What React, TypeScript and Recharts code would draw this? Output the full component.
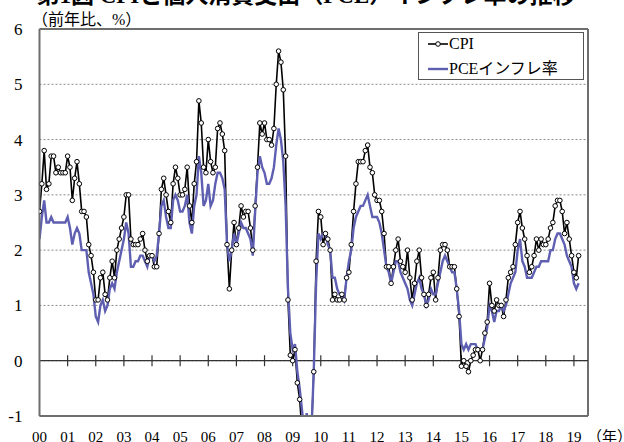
import React from "react";
import {
  LineChart,
  Line,
  XAxis,
  YAxis,
  CartesianGrid,
  ReferenceLine,
  Legend,
} from "recharts";

const FONT = "'Liberation Serif', 'Times New Roman', 'DejaVu Serif', 'Noto Sans CJK JP', serif";
const FRAME = "#6e6e6e";
const PCE_COLOR = "#5f5fb2";

// year labels under the axis (Jan of each year)
const yearLabels = [
  "00", "01", "02", "03", "04", "05", "06", "07", "08", "09",
  "10", "11", "12", "13", "14", "15", "16", "17", "18", "19",
];

// CPI, y/y %, monthly from Jan 2000
const cpi = [
  2.7, 3.2, 3.8, 3.1, 3.2, 3.7, 3.7, 3.4, 3.5, 3.4, 3.4, 3.4,
  3.7, 3.5, 2.9, 3.3, 3.6, 3.2, 2.7, 2.7, 2.6, 2.1, 1.9, 1.6,
  1.1, 1.1, 1.5, 1.6, 1.2, 1.1, 1.5, 1.8, 1.5, 2.0, 2.2, 2.4,
  2.6, 3.0, 3.0, 2.2, 2.1, 2.1, 2.1, 2.2, 2.3, 2.0, 1.8, 1.9,
  1.9, 1.7, 1.7, 2.3, 3.1, 3.3, 3.0, 2.7, 2.5, 3.2, 3.5, 3.3,
  3.0, 3.0, 3.1, 3.5, 2.8, 2.5, 3.2, 3.6, 4.7, 4.3, 3.5, 3.4,
  4.0, 3.6, 3.4, 3.5, 4.2, 4.3, 4.1, 3.8, 2.1, 1.3, 2.0, 2.5,
  2.1, 2.4, 2.8, 2.6, 2.7, 2.7, 2.4, 2.0, 2.8, 3.5, 4.3, 4.1,
  4.3, 4.0, 4.0, 3.9, 4.2, 5.0, 5.6, 5.4, 4.9, 3.7, 1.1, 0.1,
  0.0, 0.2, -0.4, -0.7, -1.3, -1.4, -2.1, -1.5, -1.3, -0.2, 1.8, 2.7,
  2.6, 2.1, 2.3, 2.2, 2.0, 1.1, 1.2, 1.1, 1.1, 1.2, 1.1, 1.5,
  1.6, 2.1, 2.7, 3.2, 3.6, 3.6, 3.6, 3.8, 3.9, 3.5, 3.4, 3.0,
  2.9, 2.9, 2.7, 2.3, 1.7, 1.7, 1.4, 1.7, 2.0, 2.2, 1.8, 1.7,
  1.6, 2.0, 1.5, 1.1, 1.4, 1.8, 2.0, 1.5, 1.2, 1.0, 1.2, 1.5,
  1.6, 1.1, 1.5, 2.0, 2.1, 2.1, 2.0, 1.7, 1.7, 1.7, 1.3, 0.8,
  -0.1, 0.0, -0.1, -0.2, 0.0, 0.1, 0.2, 0.2, 0.0, 0.2, 0.5, 0.7,
  1.4, 1.0, 0.9, 1.1, 1.0, 1.0, 0.8, 1.1, 1.5, 1.6, 1.7, 2.1,
  2.5, 2.7, 2.4, 2.2, 1.9, 1.6, 1.7, 1.9, 2.2, 2.0, 2.2, 2.1,
  2.1, 2.2, 2.4, 2.5, 2.8, 2.9, 2.9, 2.7, 2.3, 2.5, 2.2, 1.9,
  1.6, 1.5, 1.9,
];

// PCE inflation, y/y %, monthly from Jan 2000
const pce = [
  2.2, 2.6, 2.9, 2.5, 2.5, 2.6, 2.5, 2.5, 2.5, 2.5, 2.5, 2.5,
  2.6, 2.4, 2.1, 2.3, 2.4, 2.3, 2.0, 2.0, 2.0, 1.6, 1.4, 1.2,
  0.8, 0.7, 1.0, 1.1, 0.9, 1.0, 1.3, 1.4, 1.3, 1.6, 1.8, 2.0,
  2.2, 2.5, 2.3, 1.7, 1.7, 1.8, 1.8, 1.9, 1.9, 1.8, 1.7, 1.9,
  1.9, 1.8, 1.9, 2.3, 2.8, 2.9, 2.6, 2.4, 2.4, 2.9, 3.0, 2.9,
  2.7, 2.7, 2.8, 3.0, 2.5, 2.3, 2.8, 3.0, 3.7, 3.4, 2.8, 2.9,
  3.2, 2.8, 2.9, 3.2, 3.4, 3.4, 3.3, 3.1, 2.1, 1.8, 2.0, 2.3,
  2.1, 2.3, 2.5, 2.4, 2.4, 2.3, 2.2, 1.9, 2.7, 3.4, 3.7, 3.5,
  3.4, 3.2, 3.2, 3.3, 3.5, 3.9, 4.2, 4.0, 3.6, 2.8, 1.3, 0.5,
  0.2, 0.3, -0.2, -0.5, -0.9, -1.3, -0.95, -1.3, -1.3, -0.2, 1.4, 2.3,
  2.2, 2.3, 2.3, 2.1, 2.0, 1.5, 1.5, 1.3, 1.2, 1.2, 1.1, 1.5,
  1.8, 2.0, 2.4, 2.6, 2.7, 2.8, 2.8, 2.9, 3.0, 2.8, 2.6, 2.6,
  2.6, 2.5, 2.3, 2.0, 1.7, 1.6, 1.4, 1.6, 1.8, 1.8, 1.6, 1.5,
  1.4, 1.3, 1.1, 1.0, 1.2, 1.4, 1.5, 1.3, 1.2, 1.0, 1.1, 1.3,
  1.2, 1.2, 1.4, 1.6, 1.8, 1.9, 1.8, 1.7, 1.6, 1.6, 1.3, 0.9,
  0.3, 0.2, 0.3, 0.2, 0.3, 0.3, 0.3, 0.2, 0.2, 0.2, 0.4, 0.6,
  1.0, 0.9, 0.7, 0.9, 0.9, 1.0, 0.9, 1.0, 1.2, 1.4, 1.5, 1.6,
  2.0, 2.2, 1.8, 1.7, 1.5, 1.5, 1.5, 1.6, 1.7, 1.7, 1.8, 1.8,
  1.8, 1.8, 2.0, 2.0, 2.2, 2.3, 2.3, 2.2, 2.1, 1.9, 1.8, 1.7,
  1.4, 1.3, 1.4,
];

const yTicks = [-1, 0, 1, 2, 3, 4, 5, 6];
const xTicks = yearLabels.map((_, i) => i * 12);
const X_MAX = 234;

const data = cpi.map((v, i) => ({ idx: i, cpi: v, pce: pce[i] }));

function YearTick(props: any) {
  const { x, y, payload } = props;
  const label = yearLabels[payload.value / 12];
  const last = payload.index === yearLabels.length - 1;
  return (
    <g>
      <text x={x} y={y} dy="0.71em" textAnchor="middle" fontSize={15} fontFamily={FONT} fill="#000">
        {label}
      </text>
      {last && (
        <text x={x + 13} y={y} dy="0.71em" textAnchor="start" fontSize={15} fontFamily={FONT} fill="#000">
          （年）
        </text>
      )}
    </g>
  );
}

function LegendBox(props: any) {
  const items = props.payload || [];
  return (
    <div
      style={{
        width: 166,
        height: 48,
        boxSizing: "border-box",
        border: "1px solid #555",
        background: "#fff",
        position: "relative",
        fontFamily: FONT,
        fontSize: 16,
        color: "#000",
      }}
    >
      {items.map((it: any, i: number) => (
        <div key={it.value} style={{ position: "absolute", left: 8, top: 2 + i * 25, height: 18, display: "flex", alignItems: "center" }}>
          <svg width={22} height={18}>
            <line x1={1} x2={21} y1={9} y2={9} stroke={it.color} strokeWidth={i === 0 ? 1.6 : 2.4} />
            {i === 0 && <circle cx={11} cy={9} r={2.3} fill="#fff" stroke="#000" />}
          </svg>
          <span style={{ lineHeight: "18px" }}>{it.value}</span>
        </div>
      ))}
    </div>
  );
}

export default function App() {
  return (
    <div style={{ position: "absolute", left: 0, top: 0, width: 624, height: 442, background: "#fff" }}>
      <div
        style={{
          position: "absolute",
          left: 0,
          width: 612,
          top: -16,
          textAlign: "center",
          fontFamily: FONT,
          fontSize: 23,
          fontWeight: "bold",
          lineHeight: "24px",
          whiteSpace: "nowrap",
        }}
      >
        第1図 CPIと個人消費支出（PCE）インフレ率の推移
      </div>
      <div
        style={{
          position: "absolute",
          left: 32,
          top: 12,
          fontFamily: FONT,
          fontSize: 16,
          lineHeight: "16px",
          whiteSpace: "nowrap",
        }}
      >
        （前年比、%）
      </div>
      <LineChart width={624} height={442} data={data} margin={{ top: 29, right: 36, bottom: 0, left: 0 }}>
        <CartesianGrid vertical={false} stroke="#8a8a8a" strokeDasharray="2 2" />
        <XAxis
          dataKey="idx"
          type="number"
          domain={[0, X_MAX]}
          ticks={xTicks}
          interval={0}
          allowDataOverflow
          height={26}
          tickLine={false}
          tickSize={6}
          tickMargin={9}
          axisLine={{ stroke: FRAME, strokeWidth: 2 }}
          tick={<YearTick />}
        />
        <YAxis
          type="number"
          domain={[-1, 6]}
          ticks={yTicks}
          allowDataOverflow
          width={39.5}
          tickLine={false}
          tickSize={0}
          tickMargin={17}
          axisLine={{ stroke: FRAME, strokeWidth: 2 }}
          tick={{ fontSize: 17, fill: "#000", fontFamily: FONT }}
        />
        <ReferenceLine y={6} stroke={FRAME} strokeWidth={2} />
        <ReferenceLine x={X_MAX} stroke={FRAME} strokeWidth={2} />
        <ReferenceLine y={0} stroke="#333" strokeWidth={1.3} />
        {xTicks.slice(1).map((t) => (
          <ReferenceLine
            key={t}
            segment={[{ x: t, y: -0.1 }, { x: t, y: 0.1 }]}
            stroke="#333"
            strokeWidth={1.2}
          />
        ))}
        <Line
          dataKey="cpi"
          name="CPI"
          stroke="#000"
          strokeWidth={1.6}
          dot={{ r: 2.3, fill: "#fff", stroke: "#000", strokeWidth: 1 }}
          isAnimationActive={false}
        />
        <Line
          dataKey="pce"
          name="PCEインフレ率"
          stroke={PCE_COLOR}
          strokeWidth={2.4}
          dot={false}
          isAnimationActive={false}
        />
        <Legend
          layout="horizontal"
          align="center"
          verticalAlign="middle"
          wrapperStyle={{ left: 418, top: 32, width: 166, height: 48 }}
          content={<LegendBox />}
        />
      </LineChart>
    </div>
  );
}
